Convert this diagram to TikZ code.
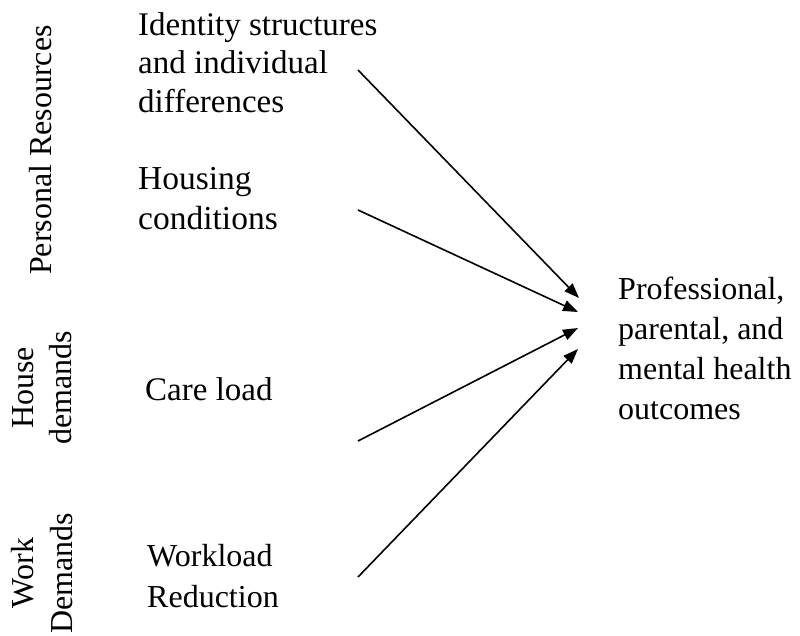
\documentclass[tikz,border=0pt]{standalone}
\usepackage{fontspec}
\setmainfont{Liberation Serif}
\usetikzlibrary{arrows.meta}
\begin{document}
\begin{tikzpicture}[x=1pt,y=-1pt,
  lbl/.style={inner sep=0pt,font=\fontsize{32}{40}\selectfont},
  side/.style={inner sep=0pt,rotate=90,align=center,font=\fontsize{32}{38.5}\selectfont},
  conn/.style={line width=1.6pt,-{Triangle[length=15pt,width=11pt]}}]
\useasboundingbox (0,0) rectangle (800,635);
% side labels
\node[side] (pr) at (41,150) {Personal Resources};
\node[side] (hd) at (42,388) {House\\demands};
\node[side] (wd) at (42,573) {Work\\Demands};
% factor labels
\node[lbl,align=left,anchor=north west,font=\fontsize{33}{38.5}\selectfont] (id) at (138,12) {Identity structures\\and individual\\differences};
\node[lbl,align=left,anchor=north west,font=\fontsize{33.5}{40}\selectfont] (hc) at (138,167) {Housing\\conditions};
\node[lbl,anchor=west,font=\fontsize{33}{40}\selectfont] (cl) at (145,389) {Care load};
\node[lbl,align=left,anchor=north west,font=\fontsize{32}{41}\selectfont] (wr) at (147,544) {Workload\\Reduction};
\node[lbl,align=left,anchor=north west] (out) at (618,277) {Professional,\\parental, and\\mental health\\outcomes};
% connector endpoints
\coordinate (s1) at (358,70);
\coordinate (s2) at (358,210);
\coordinate (s3) at (358,441);
\coordinate (s4) at (358,577);
\coordinate (e1) at (579,298);
\coordinate (e2) at (578,312);
\coordinate (e3) at (578,328);
\coordinate (e4) at (578,349);
\draw[conn] (s1) -- (e1);
\draw[conn] (s2) -- (e2);
\draw[conn] (s3) -- (e3);
\draw[conn] (s4) -- (e4);
\end{tikzpicture}
\end{document}
